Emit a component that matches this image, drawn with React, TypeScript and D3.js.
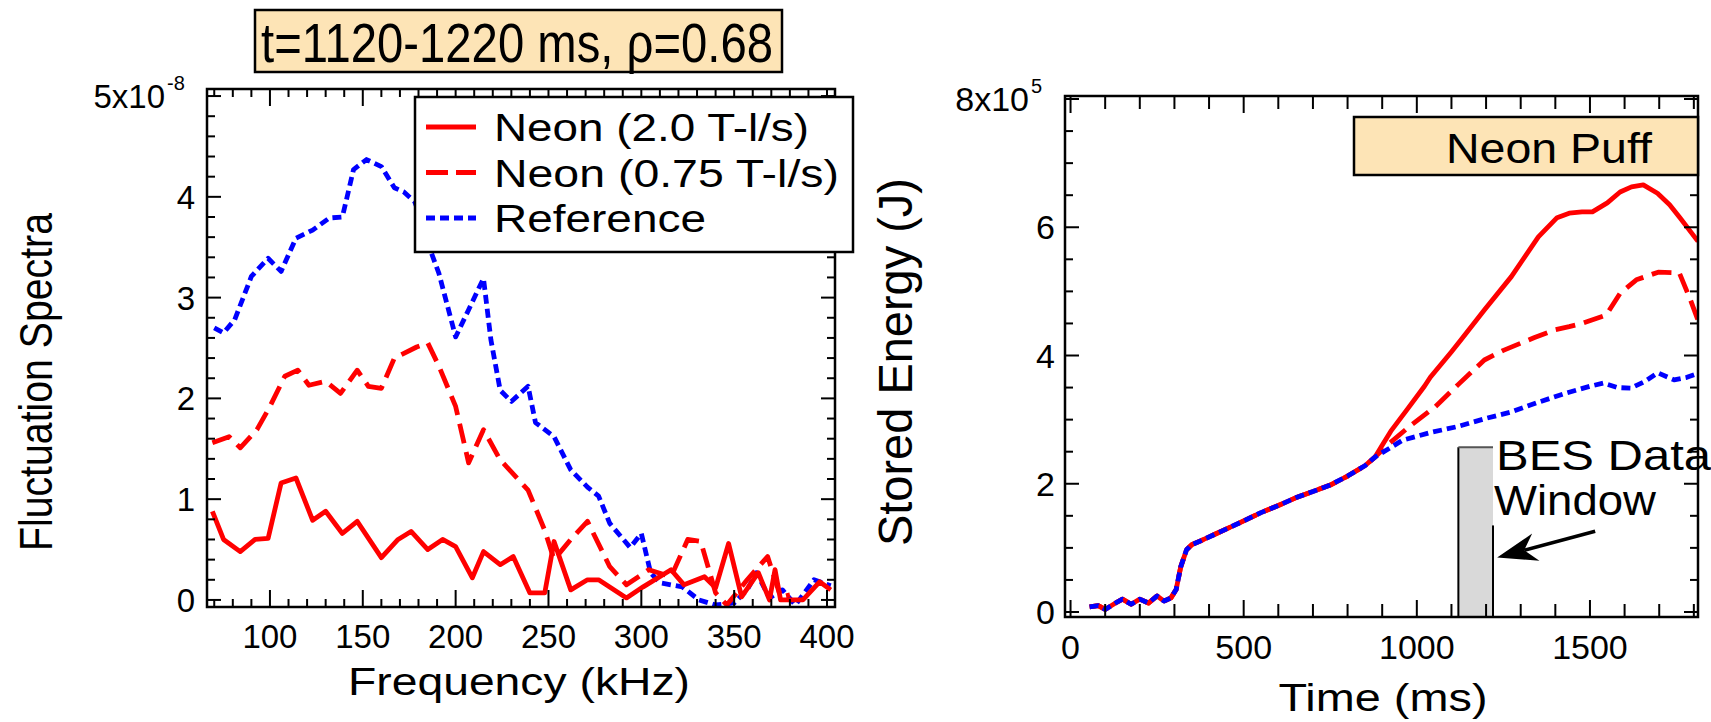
import React from 'react';
import * as d3 from 'd3';

const FONT = '"Liberation Sans", Arial, Helvetica, sans-serif';

// ---------- Left panel: fluctuation spectra (x: kHz, y: ×1e-8) ----------
const specReference: [number, number][] = [
  [70, 2.70], [75, 2.65], [81, 2.78], [90, 3.21], [99, 3.39], [106, 3.26], [114, 3.59],
  [123, 3.67], [132, 3.79], [139, 3.80], [145, 4.27], [152, 4.37], [160, 4.30], [167, 4.09],
  [172, 4.05], [178, 3.95], [183, 3.70], [187, 3.44], [191, 3.24], [200, 2.61], [207, 2.88],
  [215, 3.19], [219, 2.58], [224, 2.08], [230, 1.97], [239, 2.12], [243, 1.76], [253, 1.62],
  [262, 1.29], [271, 1.12], [277, 1.03], [283, 0.76], [294, 0.52], [300, 0.66], [305, 0.27],
  [310, 0.17], [322, 0.13], [331, 0.0], [340, -0.05], [350, -0.03], [357, 0.10], [362, 0.27],
  [369, 0.02], [376, 0.10], [383, -0.05], [393, 0.20], [402, 0.14],
];
const specNeon075: [number, number][] = [
  [69, 1.56], [78, 1.62], [84, 1.51], [93, 1.69], [100, 1.92], [108, 2.22], [115, 2.28],
  [121, 2.13], [130, 2.17], [138, 2.05], [147, 2.28], [153, 2.12], [160, 2.10], [167, 2.40],
  [179, 2.51], [185, 2.55], [191, 2.32], [200, 1.92], [207, 1.36], [215, 1.69], [224, 1.39],
  [239, 1.09], [248, 0.69], [253, 0.40], [262, 0.60], [271, 0.78], [283, 0.33], [292, 0.15],
  [304, 0.30], [316, 0.23], [325, 0.60], [332, 0.58], [340, 0.07], [346, -0.05], [357, 0.20],
  [368, 0.43], [375, 0.03], [380, 0.05],
];
const specNeon20: [number, number][] = [
  [69, 0.88], [75, 0.60], [84, 0.48], [92, 0.60], [99, 0.61], [106, 1.16], [114, 1.21],
  [123, 0.79], [130, 0.88], [139, 0.66], [147, 0.78], [160, 0.42], [169, 0.60], [176, 0.68],
  [185, 0.50], [193, 0.60], [200, 0.53], [209, 0.22], [215, 0.48], [224, 0.35], [231, 0.43],
  [240, 0.07], [248, 0.07], [253, 0.58], [262, 0.10], [271, 0.20], [277, 0.20], [292, 0.02],
  [301, 0.13], [316, 0.30], [323, 0.15], [334, 0.23], [340, 0.12], [347, 0.56], [354, 0.03],
  [363, 0.27], [369, 0.0], [372, 0.30], [375, 0.0], [387, 0.0], [396, 0.18], [402, 0.10],
];
const freqTicks = [100, 150, 200, 250, 300, 350, 400];
const specTicks = [0, 1, 2, 3, 4];

// ---------- Right panel: stored energy (x: ms, y: ×1e5 J) ----------
const energyEarly: [number, number][] = [
  [55, 0.08], [80, 0.10], [100, 0.04], [130, 0.14], [150, 0.20], [175, 0.12], [200, 0.20],
  [225, 0.14], [250, 0.25], [270, 0.17], [290, 0.22], [305, 0.35], [318, 0.70], [335, 0.97],
  [350, 1.05], [380, 1.12], [420, 1.22], [460, 1.32], [500, 1.42], [550, 1.55], [600, 1.66],
  [650, 1.78], [700, 1.88], [750, 1.98], [800, 2.12], [850, 2.28], [880, 2.42],
];
const energyNeon20Late: [number, number][] = [
  [900, 2.60], [925, 2.82], [975, 3.18], [1022, 3.52], [1039, 3.66], [1099, 4.05], [1130, 4.26],
  [1195, 4.71], [1273, 5.23], [1351, 5.85], [1405, 6.15], [1440, 6.22], [1477, 6.24],
  [1507, 6.24], [1550, 6.38], [1587, 6.55], [1620, 6.63], [1654, 6.66], [1695, 6.53],
  [1730, 6.35], [1761, 6.14], [1812, 5.78],
];
const energyNeon075Late: [number, number][] = [
  [921, 2.63], [980, 2.90], [1053, 3.20], [1120, 3.55], [1195, 3.93], [1250, 4.08], [1290, 4.17],
  [1340, 4.28], [1399, 4.40], [1440, 4.45], [1477, 4.50], [1547, 4.63], [1587, 4.97],
  [1634, 5.18], [1697, 5.30], [1758, 5.29], [1790, 4.87], [1812, 4.55],
];
const energyReferenceLate: [number, number][] = [
  [920, 2.55], [959, 2.68], [1040, 2.80], [1116, 2.89], [1200, 3.02], [1273, 3.12], [1350, 3.27],
  [1429, 3.41], [1500, 3.52], [1539, 3.57], [1580, 3.50], [1618, 3.49], [1660, 3.60],
  [1696, 3.73], [1743, 3.62], [1780, 3.66], [1812, 3.72],
];
const timeTicks = [0, 500, 1000, 1500];
const energyTicks = [0, 2, 4, 6];
const besWindow = [1120, 1220];
const besTop = 2.57;
const arrowFrom = [1515, 1.26];
const arrowTo = [1232, 0.85];

const legendLabels = ['Neon (2.0 T-l/s)', 'Neon (0.75 T-l/s)', 'Reference'];
const titleText = 't=1120-1220 ms, \u03c1=0.68';

const RED = '#ff0000';
const BLUE = '#0000ff';
const BOXFILL = '#fde4b6';

export default function App() {
  const L = { left: 207, right: 835, top: 89, bottom: 607 };
  const R = { left: 1065, right: 1698, top: 96, bottom: 617 };
  const xL = d3.scaleLinear().domain([66.1, 404.3]).range([L.left, L.right]);
  const yL = d3.scaleLinear().domain([-0.07, 5.07]).range([L.bottom, L.top]);
  const xR = d3.scaleLinear().domain([-16, 1812]).range([R.left, R.right]);
  const yR = d3.scaleLinear().domain([-0.078, 8.047]).range([R.bottom, R.top]);

  const lineL = d3.line<[number, number]>().x(d => xL(d[0])).y(d => yL(d[1]));
  const lineR = d3.line<[number, number]>().x(d => xR(d[0])).y(d => yR(d[1]));

  const wNeon20 = [...energyEarly, ...energyNeon20Late];
  const wNeon075 = [...energyEarly, ...energyNeon075Late];
  const wReference = [...energyEarly, ...energyReferenceLate];

  const tickStroke = { stroke: '#000', strokeWidth: 2 };

  const lxTicks = d3.range(70, 401, 10);
  const lyTicks = d3.range(0, 25.01, 1).map(v => v / 5);
  const rxTicks = d3.range(0, 1801, 100);
  const ryTicks = d3.range(0, 16.01, 1).map(v => v / 2);

  const lw = 4.8;

  return (
    <svg width={1711} height={722} style={{ position: 'absolute', left: 0, top: 0, background: '#fff' }}
      fontFamily={FONT}>
      <defs>
        <clipPath id="clipL"><rect x={L.left} y={L.top} width={L.right - L.left} height={L.bottom - L.top} /></clipPath>
        <clipPath id="clipR"><rect x={R.left} y={R.top} width={R.right - R.left} height={R.bottom - R.top} /></clipPath>
      </defs>
      <rect x={0} y={0} width={1711} height={722} fill="#fff" />

      {/* ===== Left panel ===== */}
      <g clipPath="url(#clipL)" fill="none" strokeLinejoin="round">
        <path d={lineL(specReference) || ''} stroke={BLUE} strokeWidth={lw} strokeDasharray="9 5" />
        <path d={lineL(specNeon075) || ''} stroke={RED} strokeWidth={lw} strokeDasharray="20 9" />
        <path d={lineL(specNeon20) || ''} stroke={RED} strokeWidth={lw} />
      </g>
      {lxTicks.map(v => {
        const major = v % 50 === 0;
        const len = major ? 17 : 8;
        return (
          <g key={'lx' + v}>
            <line x1={xL(v)} x2={xL(v)} y1={L.bottom} y2={L.bottom - len} {...tickStroke} />
            <line x1={xL(v)} x2={xL(v)} y1={L.top} y2={L.top + len} {...tickStroke} />
          </g>
        );
      })}
      {lyTicks.map(v => {
        const major = Math.abs(v - Math.round(v)) < 1e-6;
        const len = major ? 14 : 8;
        return (
          <g key={'ly' + v}>
            <line x1={L.left} x2={L.left + len} y1={yL(v)} y2={yL(v)} {...tickStroke} />
            <line x1={L.right} x2={L.right - len} y1={yL(v)} y2={yL(v)} {...tickStroke} />
          </g>
        );
      })}
      <rect x={L.left} y={L.top} width={L.right - L.left} height={L.bottom - L.top} fill="none" stroke="#000" strokeWidth={2.5} />
      {freqTicks.map(v => (
        <text key={'fl' + v} x={xL(v)} y={648} fontSize={33} textAnchor="middle">{v}</text>
      ))}
      {specTicks.map(v => (
        <text key={'sl' + v} x={195} y={yL(v) + 12} fontSize={33} textAnchor="end">{v}</text>
      ))}
      <text x={165} y={yL(5) + 12} fontSize={33} textAnchor="end">5x10</text>
      <text x={167} y={yL(5) - 6} fontSize={20}>-8</text>

      {/* legend */}
      <rect x={415} y={97} width={438} height={155} fill="#fff" stroke="#000" strokeWidth={2.5} />
      {legendLabels.map((lab, i) => {
        const cy = 127 + i * 45.5;
        const dash = i === 0 ? undefined : i === 1 ? '22 8' : '9 5';
        const col = i === 2 ? BLUE : RED;
        const lens = [315, 345, 212];
        return (
          <g key={lab}>
            <line x1={426} x2={476} y1={cy} y2={cy} stroke={col} strokeWidth={lw} strokeDasharray={dash} />
            <text x={494} y={cy + 14} fontSize={39} textLength={lens[i]} lengthAdjust="spacingAndGlyphs">{lab}</text>
          </g>
        );
      })}

      {/* title box */}
      <rect x={255} y={10} width={527} height={62} fill={BOXFILL} stroke="#000" strokeWidth={2.5} />
      <text x={261} y={62} fontSize={56} textLength={512} lengthAdjust="spacingAndGlyphs">{titleText}</text>

      {/* axis labels */}
      <text x={519} y={695} fontSize={39} textAnchor="middle" textLength={342} lengthAdjust="spacingAndGlyphs">Frequency (kHz)</text>
      <text transform={`translate(52, 382) rotate(-90)`} fontSize={46} textAnchor="middle" textLength={338} lengthAdjust="spacingAndGlyphs">Fluctuation Spectra</text>

      {/* ===== Right panel ===== */}
      <rect x={xR(besWindow[0])} y={yR(besTop)} width={xR(besWindow[1]) - xR(besWindow[0])} height={R.bottom - yR(besTop)} fill="#d9d9d9" />
      <line x1={xR(besWindow[0])} x2={xR(besWindow[0])} y1={yR(besTop)} y2={R.bottom} stroke="#000" strokeWidth={2} />
      <line x1={xR(besWindow[0])} x2={xR(besWindow[1])} y1={yR(besTop)} y2={yR(besTop)} stroke="#555" strokeWidth={2} />
      <line x1={xR(besWindow[1])} x2={xR(besWindow[1])} y1={yR(1.35)} y2={R.bottom} stroke="#000" strokeWidth={2} />

      <g clipPath="url(#clipR)" fill="none" strokeLinejoin="round">
        <path d={lineR(wNeon20) || ''} stroke={RED} strokeWidth={lw} />
        <path d={lineR(wNeon075) || ''} stroke={RED} strokeWidth={lw} strokeDasharray="20 9" />
        <path d={lineR(wReference) || ''} stroke={BLUE} strokeWidth={lw} strokeDasharray="9 5" />
      </g>
      {rxTicks.map(v => {
        const major = v % 500 === 0;
        const len = major ? 17 : 13;
        return (
          <g key={'rx' + v}>
            <line x1={xR(v)} x2={xR(v)} y1={R.bottom} y2={R.bottom - len} {...tickStroke} />
            <line x1={xR(v)} x2={xR(v)} y1={R.top} y2={R.top + len} {...tickStroke} />
          </g>
        );
      })}
      {ryTicks.map(v => {
        const major = v % 2 === 0;
        const len = major ? 14 : 8;
        return (
          <g key={'ry' + v}>
            <line x1={R.left} x2={R.left + len} y1={yR(v)} y2={yR(v)} {...tickStroke} />
            <line x1={R.right} x2={R.right - len} y1={yR(v)} y2={yR(v)} {...tickStroke} />
          </g>
        );
      })}
      <rect x={R.left} y={R.top} width={R.right - R.left} height={R.bottom - R.top} fill="none" stroke="#000" strokeWidth={2.5} />
      {timeTicks.map(v => (
        <text key={'tl' + v} x={xR(v)} y={659} fontSize={34} textAnchor="middle">{v}</text>
      ))}
      {energyTicks.map(v => (
        <text key={'el' + v} x={1055} y={yR(v) + 12} fontSize={34} textAnchor="end">{v}</text>
      ))}
      <text x={1029} y={yR(8) + 12} fontSize={34} textAnchor="end">8x10</text>
      <text x={1031} y={yR(8) - 6} fontSize={20}>5</text>

      {/* Neon Puff box */}
      <rect x={1354} y={117} width={R.right - 1354} height={58} fill={BOXFILL} stroke="#000" strokeWidth={2.5} />
      <text x={1446} y={163} fontSize={43} textLength={206} lengthAdjust="spacingAndGlyphs">Neon Puff</text>

      {/* BES annotation */}
      <text x={xR(besWindow[1]) + 3} y={470} fontSize={42} textLength={215} lengthAdjust="spacingAndGlyphs">BES Data</text>
      <text x={xR(besWindow[1]) + 1} y={515} fontSize={42} textLength={162} lengthAdjust="spacingAndGlyphs">Window</text>
      {(() => {
        const sx = xR(arrowFrom[0]), sy = yR(arrowFrom[1]), tx = xR(arrowTo[0]), ty = yR(arrowTo[1]);
        const dx = tx - sx, dy = ty - sy, n = Math.hypot(dx, dy);
        const ux = dx / n, uy = dy / n, px = -uy, py = ux;
        const hl = 40, hw = 14;
        const bx = tx - ux * hl, by = ty - uy * hl;
        const ix = tx - ux * hl * 0.7, iy = ty - uy * hl * 0.7;
        return (
          <g>
            <line x1={sx} y1={sy} x2={ix} y2={iy} stroke="#000" strokeWidth={3.5} />
            <polygon points={`${tx},${ty} ${bx + px * hw},${by + py * hw} ${ix},${iy} ${bx - px * hw},${by - py * hw}`} fill="#000" />
          </g>
        );
      })()}

      <text x={1383} y={711} fontSize={38} textAnchor="middle" textLength={209} lengthAdjust="spacingAndGlyphs">Time (ms)</text>
      <text transform={`translate(912, 362) rotate(-90)`} fontSize={48} textAnchor="middle" textLength={368} lengthAdjust="spacingAndGlyphs">Stored Energy (J)</text>
    </svg>
  );
}
